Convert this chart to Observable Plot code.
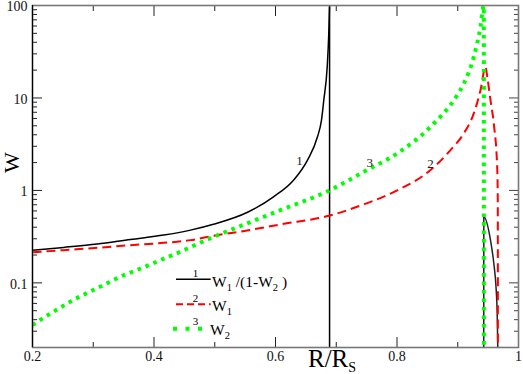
<!DOCTYPE html>
<html><head><meta charset="utf-8">
<script src="https://cdn.jsdelivr.net/npm/d3@7"></script>
<script src="https://cdn.jsdelivr.net/npm/@observablehq/plot@0.6"></script>
<style>
body{margin:0;background:#fff;}
svg{display:block}
svg text, svg tspan { font-family: "Liberation Serif", "Times New Roman", "DejaVu Serif", serif; }
</style>
</head><body><div id="chart"></div>
<script>
// ---- data ----
// curve 1: W1/(1-W2), branch before the asymptote
const blackX = [0.2, 0.2515, 0.3065, 0.3613, 0.4161, 0.46, 0.4979, 0.554, 0.5967, 0.6296, 0.6527, 0.6691, 0.6757, 0.6795, 0.6851, 0.6877, 0.6889];
const blackY = [0.226, 0.242, 0.263, 0.295, 0.329, 0.372, 0.43, 0.58, 0.853, 1.29, 2.13, 3.80, 5.75, 9.47, 21.7, 50, 96.6];
// asymptote of curve 1 (W2 = 1)
const asymptoteX = [0.689];
// curve 1: branch near the surface
const black2X = [0.9428, 0.9429, 0.9539, 0.9593, 0.9633, 0.9649, 0.9659];
const black2Y = [0.0202, 0.518, 0.290, 0.164, 0.0836, 0.0472, 0.0204];
// curve 2: W1
const redX = [0.2, 0.2515, 0.3065, 0.3613, 0.4161, 0.46, 0.4984, 0.5534, 0.6082, 0.6877, 0.7453, 0.8003, 0.8551, 0.888, 0.9099, 0.9264, 0.9374, 0.9456, 0.9489, 0.9539, 0.9596, 0.9649, 0.9659, 0.9661];
const redY = [0.214, 0.226, 0.2395, 0.256, 0.271, 0.290, 0.323, 0.369, 0.429, 0.531, 0.706, 1.0, 1.66, 2.73, 4.13, 6.8, 12.1, 21.5, 16.4, 9.47, 5.08, 1.80, 0.786, 0.0202];
// curve 3: W2
const greenX = [0.2, 0.2143, 0.2416, 0.2691, 0.2976, 0.3256, 0.3407, 0.3849, 0.4145, 0.4436, 0.459, 0.4984, 0.5534, 0.6082, 0.6889, 0.7453, 0.8003, 0.8551, 0.899, 0.9099, 0.9264, 0.9374, 0.9429, 0.9430];
const greenY = [0.035, 0.0403, 0.052, 0.0663, 0.0822, 0.101, 0.1135, 0.149, 0.181, 0.217, 0.242, 0.315, 0.440, 0.612, 1.0, 1.59, 2.51, 4.87, 10.7, 14.3, 27.8, 58.7, 100, 0.0202];
// curve number labels
const curveLabelText = ["1", "3", "2"];
const curveLabelX = [0.6395, 0.7552, 0.8551];
const curveLabelY = [2.09, 1.99, 1.96];
// ticks
const xMajorTicks = [0.2, 0.4, 0.6, 0.8, 1];
const xTickLabels = ["0.2", "0.4", "0.6", "0.8", "1"];
const xMinorTicks = [0.3, 0.5, 0.7, 0.9];
const yMajorTicks = [0.1, 1, 10, 100];
const yTickLabels = ["0.1", "1", "10", "100"];
const yMinorTicks = [0.03, 0.04, 0.05, 0.06, 0.07, 0.08, 0.09, 0.2, 0.3, 0.4, 0.5, 0.6, 0.7, 0.8, 0.9, 2, 3, 4, 5, 6, 7, 8, 9, 20, 30, 40, 50, 60, 70, 80, 90];
// legend
const legendNumbers = ["1", "2", "3"];
const legendTexts = [
  [["W", 0], ["1", 1], [" /(1-", 0], ["W", 0], ["2", 1], [" )", 0]],
  [["W", 0], ["1", 1]],
  [["W", 0], ["2", 1]]
];
const xLabel = [["R/R", 0], ["S", 1]];
const yLabel = "W";

// ---- drawing ----
const serif = "'Liberation Serif', 'Times New Roman', 'DejaVu Serif', serif";
const rows = (xs, ys) => xs.map((x, i) => ({x, y: ys[i]}));
const greenDash = "3.6,4.9";
const redDash = "9,5";

const yLabelOf = d => yTickLabels[yMajorTicks.indexOf(d)];
const xLabelOf = d => xTickLabels[xMajorTicks.indexOf(d)];

const chart = Plot.plot({
  width: 523, height: 374,
  marginLeft: 32, marginRight: 5, marginTop: 5, marginBottom: 27,
  style: "font-size: 14px; background: white; color: black; overflow: visible;",
  x: {domain: [0.2, 1], axis: null},
  y: {type: "log", domain: [0.02, 100], axis: null},
  marks: [
    Plot.ruleX(asymptoteX, {stroke: "black", strokeWidth: 1.5}),
    Plot.line(rows(blackX, blackY), {x: "x", y: "y", stroke: "black", strokeWidth: 1.5, curve: "monotone-x", clip: true}),
    Plot.line(rows(black2X, black2Y), {x: "x", y: "y", stroke: "#222", strokeWidth: 1.5, curve: "monotone-x", clip: true}),
    Plot.line(rows(redX, redY), {x: "x", y: "y", stroke: "#ff0000", strokeWidth: 2, strokeDasharray: redDash, strokeLinecap: "butt", curve: "monotone-x", clip: true}),
    Plot.line(rows(greenX, greenY), {x: "x", y: "y", stroke: "#00ff00", strokeWidth: 4, strokeDasharray: greenDash, strokeLinecap: "butt", curve: "monotone-x", clip: true}),
    Plot.text(curveLabelText, {x: (d, i) => curveLabelX[i], y: (d, i) => curveLabelY[i], text: d => d, fontSize: 13, fill: "#222", fontFamily: serif}),
    // inward ticks
    Plot.axisY(yMajorTicks, {anchor: "left", tickSize: -10, fill: "none", label: null, stroke: "#222"}),
    Plot.axisY(yMinorTicks, {anchor: "left", tickSize: -5, fill: "none", label: null, stroke: "#222"}),
    Plot.axisY(yMajorTicks, {anchor: "right", tickSize: -10, fill: "none", label: null, stroke: "#444"}),
    Plot.axisY(yMinorTicks, {anchor: "right", tickSize: -5, fill: "none", label: null, stroke: "#444"}),
    Plot.axisX(xMajorTicks, {anchor: "bottom", tickSize: -10, fill: "none", label: null, stroke: "#222"}),
    Plot.axisX(xMinorTicks, {anchor: "bottom", tickSize: -5, fill: "none", label: null, stroke: "#222"}),
    Plot.axisX(xMajorTicks, {anchor: "top", tickSize: -10, fill: "none", label: null, stroke: "#222"}),
    Plot.axisX(xMinorTicks, {anchor: "top", tickSize: -5, fill: "none", label: null, stroke: "#222"}),
    // tick labels
    Plot.axisY(yMajorTicks, {anchor: "left", tickSize: 0, tickPadding: 5, dy: 1.5, tickFormat: yLabelOf, label: null, fill: "#111", fontSize: 14, fontFamily: serif}),
    Plot.axisX(xMajorTicks, {anchor: "bottom", tickSize: 0, tickPadding: 4, tickFormat: xLabelOf, label: null, fill: "#111", fontSize: 14, fontFamily: serif}),
    Plot.frame({stroke: "#777", strokeWidth: 1.6}),
    Plot.ruleX([0.2], {stroke: "black", strokeWidth: 1.2})
  ]
});
document.getElementById("chart").appendChild(chart);

// ---- axis titles and legend (need subscripts) ----
const svg = d3.select(chart);
const g = svg.append("g").attr("font-family", serif).attr("fill", "black").attr("text-anchor", "start");

function richText(sel, parts, size, subSize, subShift) {
  let prevSub = 0;
  parts.forEach(([t, sub]) => {
    const shift = (sub - prevSub) * subShift;
    sel.append("tspan").attr("dy", shift).attr("font-size", sub ? subSize : size)
      .attr("xml:space", "preserve").style("white-space", "pre").text(t);
    prevSub = sub;
  });
}

// x title
richText(g.append("text").attr("x", 308).attr("y", 367).attr("text-anchor", "start"), xLabel, 25, 14, 5);
// y title
g.append("text").attr("transform", "translate(18.5,162.5) rotate(-90)")
  .attr("text-anchor", "middle").attr("font-size", 22).text(yLabel);

// legend
const legendY = [279.3, 304.3, 328.7];
const legendBase = [286.5, 310.5, 334.5];
const legendNumBase = [277, 302, 325];
const legendStyle = [
  {stroke: "black", width: 1.5, dash: null},
  {stroke: "#ff0000", width: 2, dash: "7,4"},
  {stroke: "#00ff00", width: 4, dash: "4,8.5"}
];
legendNumbers.forEach((n, i) => {
  const s = legendStyle[i];
  const ln = g.append("line").attr("x1", i === 2 ? 173 : 176).attr("x2", 210.7)
    .attr("y1", legendY[i]).attr("y2", legendY[i])
    .attr("stroke", s.stroke).attr("stroke-width", s.width);
  if (s.dash) ln.attr("stroke-dasharray", s.dash);
  g.append("text").attr("x", 195.5).attr("y", legendNumBase[i]).attr("text-anchor", "middle")
    .attr("font-size", 11).text(n);
  richText(g.append("text").attr("x", i === 2 ? 210 : 212).attr("y", legendBase[i]).attr("text-anchor", "start"), legendTexts[i], 15.5, 10.5, 4.5);
});
</script>
</body></html>
